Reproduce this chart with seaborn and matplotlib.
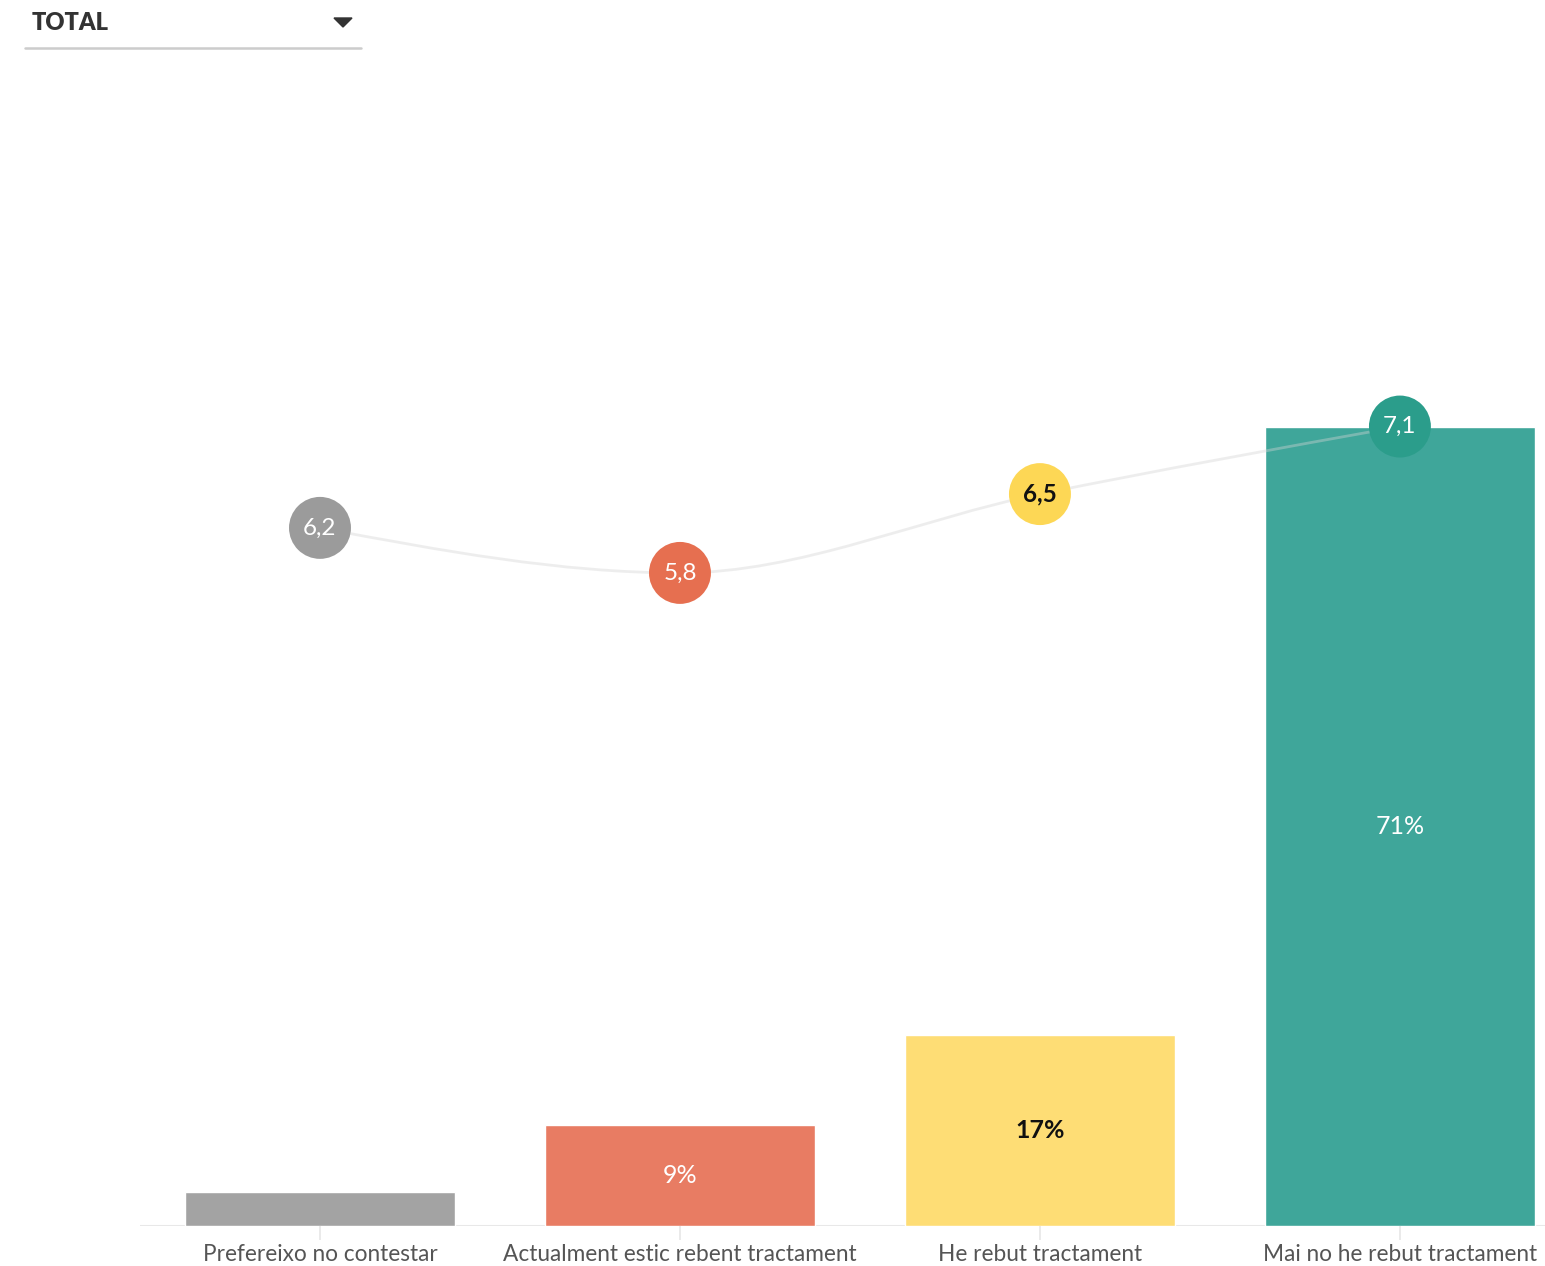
import numpy as np
import pandas as pd
import matplotlib
matplotlib.use("Agg")
import matplotlib.pyplot as plt
from matplotlib.path import Path
from matplotlib.patches import PathPatch, Polygon
from matplotlib.lines import Line2D
import seaborn as sns

categories = ["Prefereixo no contestar", "Actualment estic rebent tractament",
              "He rebut tractament", "Mai no he rebut tractament"]
shares = [3, 9, 17, 71]
share_labels = ["", "9%", "17%", "71%"]
scores = [6.2, 5.8, 6.5, 7.1]
score_labels = ["6,2", "5,8", "6,5", "7,1"]

bar_colors = ["#a3a3a3", "#e87c63", "#fedd75", "#3fa69a"]
dot_colors = ["#9b9b9b", "#e66f50", "#fdd755", "#2b9d8b"]
bar_text = ["white", "white", "#111111", "white"]
bar_weight = ["normal", "normal", "bold", "normal"]
dot_text = ["white", "white", "#111111", "white"]
dot_weight = ["normal", "normal", "bold", "normal"]

sns.set_theme(style="white")
plt.rcParams['font.family'] = ['Lato', 'DejaVu Sans']

df = pd.DataFrame({"cat": categories, "share": shares})

W, H = 1545, 1266
fig = plt.figure(figsize=(W / 100, H / 100), dpi=100)
ax = fig.add_axes([140 / W, 40 / H, 1 - 140 / W, 1126 / H])

sns.barplot(data=df, x="cat", y="share", hue="cat", palette=bar_colors,
            width=0.75, saturation=1, legend=False, ax=ax)
ax.set_xlim(-0.5, 3.403)
ax.set_ylim(0, 100)
for s in ax.spines.values():
    s.set_visible(False)
ax.axhline(0, color="#e8e8e8", lw=1.5, zorder=0)
ax.set_yticks([])
ax.set_xlabel("")
ax.set_ylabel("")
ax.tick_params(axis="x", length=10, width=1.2, color="#e6e6e6", pad=3,
               labelsize=16.3, labelcolor="#555555", bottom=True)

for i, (v, lab) in enumerate(zip(shares, share_labels)):
    if lab:
        ax.text(i, v / 2, lab, ha="center", va="center", fontsize=18,
                color=bar_text[i], fontweight=bar_weight[i])

# score line on a twin axis (0-10)
ax2 = ax.twinx()
ax2.set_ylim(0, 10)
ax2.set_xlim(ax.get_xlim())
ax2.axis("off")

# monotone cubic curve through the scores
x = np.arange(len(scores), dtype=float)
y = np.array(scores)
s = np.diff(y)
t = np.zeros(len(y))
for i in range(1, len(y) - 1):
    if s[i - 1] * s[i] > 0:
        p = (s[i - 1] + s[i]) / 2
        t[i] = (np.sign(s[i - 1]) + np.sign(s[i])) * min(abs(s[i - 1]), abs(s[i]), 0.5 * abs(p))
t[0] = (3 * s[0] - t[1]) / 2
t[-1] = (3 * s[-1] - t[-2]) / 2
verts = [(x[0], y[0])]
codes = [Path.MOVETO]
for i in range(len(y) - 1):
    verts += [(x[i] + 1 / 3, y[i] + t[i] / 3), (x[i + 1] - 1 / 3, y[i + 1] - t[i + 1] / 3),
              (x[i + 1], y[i + 1])]
    codes += [Path.CURVE4] * 3
ax2.add_patch(PathPatch(Path(verts, codes), fill=False, edgecolor="#d4d4d4",
                        lw=2, alpha=0.4, zorder=1))

ax2.scatter(x, y, s=1990, c=dot_colors, edgecolors="none", zorder=3)
for i, lab in enumerate(score_labels):
    ax2.text(x[i], y[i], lab, ha="center", va="center", fontsize=17.5,
             color=dot_text[i], fontweight=dot_weight[i], zorder=4)

# dropdown header
fig.text(32 / W, 1 - 23 / H, "TOTAL", ha="left", va="center", fontsize=17,
         fontweight="heavy", color="#333333")
fig.patches.append(Polygon([(334 / W, 1 - 18 / H), (352 / W, 1 - 18 / H), (343 / W, 1 - 27 / H)],
                           closed=True, color="#333333", transform=fig.transFigure))
fig.lines.append(Line2D([25 / W, 361 / W], [1 - 48 / H, 1 - 48 / H], color="#cccccc",
                        lw=1.8, transform=fig.transFigure))

fig.savefig("out.png", dpi=100)
